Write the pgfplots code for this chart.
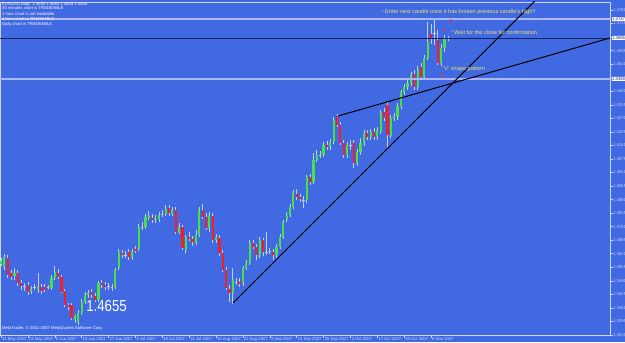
\documentclass[border=0pt]{standalone}
\usepackage{fontspec}
\setmainfont{Liberation Sans}
\usepackage{pgfplots}
\pgfplotsset{compat=1.18}
\usepackage{pgfplotstable}
\definecolor{bg}{RGB}{65,105,225}
\definecolor{upc}{RGB}{70,225,70}
\definecolor{dnc}{RGB}{245,30,40}
\definecolor{wick}{RGB}{195,205,238}
\definecolor{fg}{RGB}{205,215,245}
\definecolor{hl}{RGB}{170,185,245}
\definecolor{txt}{RGB}{235,225,110}
\definecolor{navy}{RGB}{25,35,95}
\definecolor{mark}{RGB}{220,60,90}

% up candles: index open high low close
\pgfplotstableread{
x o h l c
0 1.3571 1.3600 1.3561 1.3585
1 1.3556 1.3619 1.3542 1.3604
4 1.3513 1.3552 1.3494 1.3528
9 1.3441 1.3465 1.3427 1.3451
11 1.3451 1.3528 1.3432 1.3460
15 1.3456 1.3518 1.3446 1.3504
16 1.3504 1.3561 1.3494 1.3532
22 1.3309 1.3326 1.3288 1.3319
23 1.3292 1.3350 1.3278 1.3336
24 1.3336 1.3403 1.3326 1.3388
25 1.3388 1.3436 1.3379 1.3422
26 1.3422 1.3446 1.3408 1.3432
29 1.3398 1.3489 1.3388 1.3480
34 1.3460 1.3552 1.3451 1.3542
35 1.3552 1.3643 1.3542 1.3628
39 1.3604 1.3643 1.3590 1.3628
41 1.3643 1.3763 1.3633 1.3748
43 1.3748 1.3811 1.3739 1.3796
44 1.3792 1.3825 1.3782 1.3801
46 1.3782 1.3806 1.3768 1.3789
47 1.3787 1.3820 1.3772 1.3806
49 1.3811 1.3854 1.3801 1.3835
51 1.3811 1.3844 1.3801 1.3830
53 1.3724 1.3768 1.3715 1.3748
55 1.3638 1.3710 1.3624 1.3700
58 1.3672 1.3734 1.3662 1.3710
59 1.3710 1.3844 1.3700 1.3830
62 1.3744 1.3820 1.3724 1.3806
64 1.3686 1.3715 1.3672 1.3700
69 1.3432 1.3552 1.3379 1.3499
72 1.3480 1.3561 1.3465 1.3552
73 1.3552 1.3590 1.3542 1.3576
74 1.3576 1.3686 1.3566 1.3672
77 1.3614 1.3700 1.3600 1.3686
82 1.3614 1.3667 1.3600 1.3652
83 1.3652 1.3715 1.3643 1.3700
84 1.3700 1.3782 1.3691 1.3772
85 1.3782 1.3820 1.3772 1.3806
86 1.3806 1.3859 1.3796 1.3844
87 1.3844 1.3926 1.3835 1.3912
91 1.3878 1.3998 1.3864 1.3988
93 1.3964 1.4104 1.3955 1.4070
94 1.4070 1.4118 1.4060 1.4094
96 1.4094 1.4156 1.4084 1.4142
98 1.4132 1.4171 1.4118 1.4156
99 1.4156 1.4276 1.4147 1.4262
103 1.4094 1.4156 1.4080 1.4142
106 1.4056 1.4123 1.4041 1.4108
107 1.4108 1.4176 1.4094 1.4152
108 1.4152 1.4214 1.4137 1.4200
110 1.4180 1.4219 1.4166 1.4204
112 1.4180 1.4228 1.4166 1.4214
113 1.4204 1.4310 1.4195 1.4296
116 1.4185 1.4286 1.4176 1.4272
117 1.4267 1.4296 1.4257 1.4281
118 1.4276 1.4344 1.4262 1.4329
119 1.4329 1.4406 1.4315 1.4396
120 1.4396 1.4435 1.4382 1.4420
121 1.4420 1.4454 1.4406 1.4440
122 1.4440 1.4492 1.4425 1.4478
124 1.4420 1.4521 1.4406 1.4507
126 1.4468 1.4574 1.4454 1.4560
127 1.4560 1.4732 1.4550 1.4636
131 1.4536 1.4627 1.4521 1.4608
132 1.4608 1.4670 1.4588 1.4656
}\upt

% down candles
\pgfplotstableread{
x o h l c
2 1.3600 1.3614 1.3504 1.3518
3 1.3528 1.3542 1.3494 1.3508
5 1.3528 1.3542 1.3465 1.3480
6 1.3480 1.3494 1.3446 1.3465
8 1.3470 1.3484 1.3422 1.3436
12 1.3460 1.3475 1.3427 1.3441
13 1.3460 1.3475 1.3436 1.3446
17 1.3528 1.3547 1.3499 1.3508
18 1.3508 1.3518 1.3432 1.3436
19 1.3441 1.3451 1.3364 1.3374
20 1.3374 1.3384 1.3350 1.3364
21 1.3374 1.3384 1.3302 1.3312
27 1.3436 1.3451 1.3408 1.3422
28 1.3417 1.3432 1.3388 1.3398
30 1.3480 1.3494 1.3456 1.3470
31 1.3470 1.3484 1.3446 1.3460
36 1.3624 1.3638 1.3600 1.3614
38 1.3628 1.3643 1.3590 1.3604
40 1.3643 1.3657 1.3624 1.3633
45 1.3792 1.3811 1.3768 1.3782
50 1.3840 1.3854 1.3801 1.3816
52 1.3830 1.3844 1.3715 1.3724
54 1.3748 1.3758 1.3638 1.3648
56 1.3700 1.3724 1.3681 1.3691
57 1.3691 1.3705 1.3657 1.3676
60 1.3830 1.3859 1.3787 1.3796
61 1.3796 1.3816 1.3734 1.3744
63 1.3801 1.3816 1.3672 1.3686
65 1.3696 1.3710 1.3609 1.3624
66 1.3624 1.3638 1.3532 1.3542
67 1.3542 1.3556 1.3446 1.3456
68 1.3451 1.3470 1.3388 1.3432
71 1.3484 1.3504 1.3460 1.3475
75 1.3672 1.3686 1.3643 1.3652
76 1.3652 1.3667 1.3590 1.3614
78 1.3686 1.3696 1.3609 1.3628
81 1.3628 1.3643 1.3590 1.3614
88 1.3907 1.3931 1.3878 1.3892
89 1.3892 1.3907 1.3868 1.3883
92 1.3988 1.4003 1.3950 1.3964
97 1.4142 1.4161 1.4118 1.4132
100 1.4281 1.4291 1.4228 1.4238
101 1.4238 1.4252 1.4142 1.4152
102 1.4152 1.4166 1.4080 1.4094
105 1.4152 1.4166 1.4032 1.4056
109 1.4200 1.4214 1.4166 1.4180
111 1.4204 1.4224 1.4166 1.4180
114 1.4300 1.4320 1.4257 1.4272
115 1.4334 1.4348 1.4132 1.4190
123 1.4483 1.4502 1.4406 1.4420
125 1.4516 1.4536 1.4454 1.4468
128 1.4675 1.4723 1.4627 1.4656
130 1.4646 1.4694 1.4526 1.4536
}\dnt

% doji candles (open = close)
\pgfplotstableread{
x o h l c
7 1.3463 1.3480 1.3441 1.3463
10 1.3460 1.3475 1.3446 1.3460
14 1.3460 1.3470 1.3451 1.3460
32 1.3465 1.3480 1.3446 1.3465
33 1.3460 1.3475 1.3441 1.3460
37 1.3614 1.3633 1.3600 1.3614
42 1.3748 1.3772 1.3734 1.3748
48 1.3811 1.3830 1.3796 1.3811
70 1.3484 1.3504 1.3470 1.3484
79 1.3628 1.3724 1.3614 1.3628
80 1.3633 1.3648 1.3619 1.3633
90 1.3878 1.3897 1.3840 1.3878
95 1.4094 1.4113 1.4080 1.4094
104 1.4142 1.4166 1.4118 1.4142
129 1.4680 1.4752 1.4622 1.4680
133 1.4655 1.4664 1.4639 1.4655
}\djt

\newcommand{\tf}{\fontsize{4.2}{5}\selectfont}
\begin{document}
\begin{tikzpicture}[x=1bp,y=1bp]
\path[use as bounding box, fill=bg] (0,0) rectangle (625,342);
\begin{axis}[
  at={(0bp,6.8bp)}, anchor=south west,
  scale only axis, width=610bp, height=333.2bp,
  xmin=-0.298, xmax=181.25, ymin=1.3229, ymax=1.48284,
  axis line style={fg, line width=0.6bp},
  tick align=outside, major tick length=2.5bp,
  tick style={fg, line width=0.5bp},
  xtick pos=bottom, ytick pos=right, yticklabel pos=right,
  xtick={0,8,...,128},
  xticklabels={14 May 2007,24 May 2007,5 Jun 2007,15 Jun 2007,27 Jun 2007,9 Jul 2007,19 Jul 2007,31 Jul 2007,10 Aug 2007,22 Aug 2007,3 Sep 2007,13 Sep 2007,25 Sep 2007,5 Oct 2007,17 Oct 2007,29 Oct 2007,8 Nov 2007},
  xticklabel style={font=\tf, text=fg, anchor=north west, inner sep=0.6bp, xshift=0.3bp, yshift=1.2bp},
  ytick={1.4790,1.4725,1.4660,1.4595,1.4530,1.4465,1.4400,1.4335,1.4270,1.4205,1.4140,1.4075,1.4010,1.3945,1.3880,1.3815,1.3750,1.3685,1.3620,1.3555,1.3490,1.3425,1.3360,1.3295,1.3230},
  yticklabels={1.4790,1.4725,1.4660,1.4595,1.4530,1.4465,1.4400,1.4335,1.4270,1.4205,1.4140,1.4075,1.4010,1.3945,1.3880,1.3815,1.3750,1.3685,1.3620,1.3555,1.3490,1.3425,1.3360,1.3295,1.3230},
  yticklabel style={font=\tf, text=fg, anchor=west, inner sep=0.6bp},
]
% wicks
\addplot[wick, line width=0.7bp, quiver={u=0,v=\thisrow{h}-\thisrow{l}}] table[x=x,y=l]{\upt};
\addplot[wick, line width=0.7bp, quiver={u=0,v=\thisrow{h}-\thisrow{l}}] table[x=x,y=l]{\dnt};
\addplot[wick, line width=0.7bp, quiver={u=0,v=\thisrow{h}-\thisrow{l}}] table[x=x,y=l]{\djt};
% bodies
\addplot[upc, line width=2.2bp, quiver={u=0,v=\thisrow{c}-\thisrow{o}}] table[x=x,y=o]{\upt};
\addplot[dnc, line width=2.2bp, quiver={u=0,v=\thisrow{c}-\thisrow{o}}] table[x=x,y=o]{\dnt};
\addplot[wick, line width=0.8bp, quiver={u=0.7,v=0}] table[x expr=\thisrow{x}-0.35,y=o]{\djt};
% horizontal lines
\addplot[hl, line width=1.5bp] coordinates {(-0.3,1.4747) (181.3,1.4747)};
\addplot[hl, line width=1.5bp] coordinates {(-0.3,1.4458) (181.3,1.4458)};
\addplot[navy, line width=0.8bp] coordinates {(-0.3,1.4655) (181.3,1.4655)};
% trendlines
\addplot[black, line width=1bp] coordinates {(69.05,1.33836) (159.2,1.4838)};
\addplot[black, line width=1bp] coordinates {(100.3,1.42812) (181.25,1.46556)};
\end{axis}
% price labels of the lines
\node[fill=white, text=navy, font=\tf, inner sep=0.5bp, anchor=west] at (611.5,323) {1.4747};
\node[fill=white, text=navy, font=\tf, inner sep=0.5bp, anchor=west] at (611.5,304) {1.4655};
\node[fill=white, text=navy, font=\tf, inner sep=0.5bp, anchor=west] at (611.5,263) {1.4458};
% header texts
\begin{scope}[every node/.style={font=\tf, text=white, anchor=west, inner sep=0pt}]
\node at (2,338) {EURUSD,Daily\ \ 1.4655 1.4664 1.4639 1.4655};
\node at (2,333.5) {30 minutes chart is TRADEABLE};
\node at (2,328) {1 hour chart is not tradeable};
\node at (2,323) {4 hour chart is TRADEABLE};
\node at (2,318) {Daily chart is TRADEABLE};
\node at (2,14) {MetaTrader, © 2001-2007 MetaQuotes Software Corp.};
\end{scope}
\node[font=\fontsize{16}{18}\selectfont, text=white, xscale=0.83, inner sep=0pt] at (106.5,36) {1.4655};
% annotations
\begin{scope}[every node/.style={font=\fontsize{5.6}{6.5}\selectfont, text=txt, anchor=west, inner sep=0pt}]
\node at (385,330) {Enter next candle once it has broken previous candle's high?};
\node at (454,309) {Wait for the close for confirmation};
\node at (443,273) {'V' shape pattern};
\end{scope}
\fill[txt] (383,331) circle (0.6);
\fill[txt] (452,311) circle (0.6);
\node[font=\fontsize{6}{7}\selectfont, text=mark, inner sep=0pt] at (451,321) {8};
\node[font=\fontsize{6}{7}\selectfont, text=mark, inner sep=0pt] at (444,312) {0};
\node[font=\fontsize{6}{7}\selectfont, text=mark, inner sep=0pt] at (442,267) {\&};
\end{tikzpicture}
\end{document}
